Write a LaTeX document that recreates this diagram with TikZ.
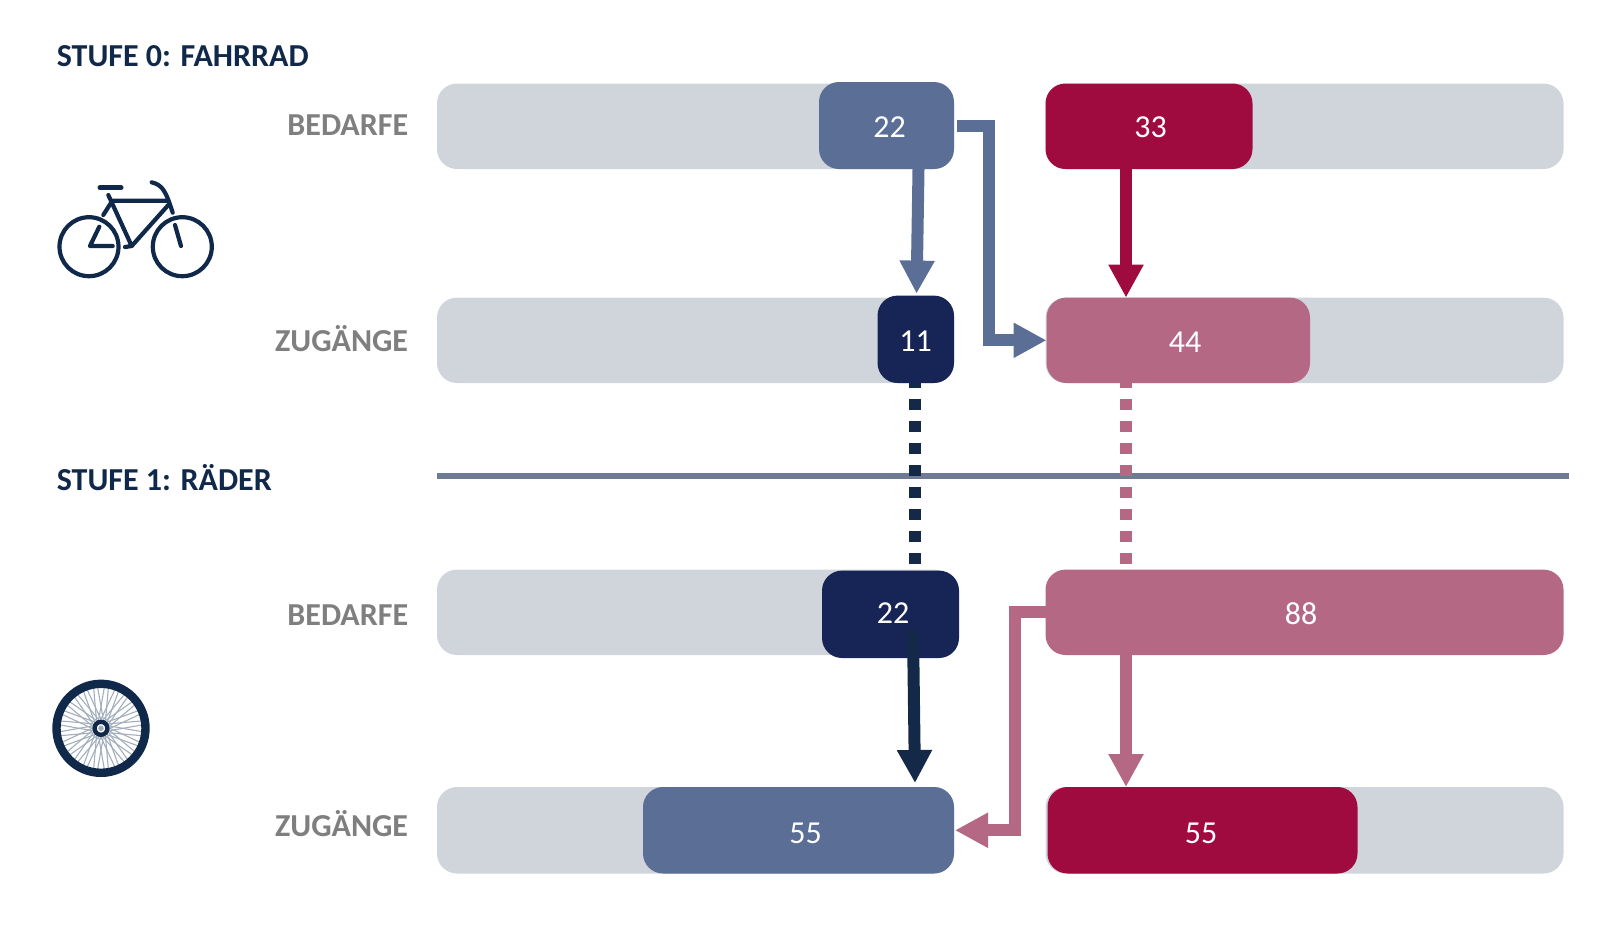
\documentclass[tikz,border=0pt]{standalone}
\usepackage{fontspec}
\setmainfont{Carlito}
\usetikzlibrary{arrows.meta}
\usetikzlibrary{fit}

\definecolor{trackgray}{HTML}{D0D4DB}
\definecolor{steelblue}{HTML}{5A6E96}
\definecolor{crimson}{HTML}{A00B3F}
\definecolor{rose}{HTML}{B46884}
\definecolor{navybox}{HTML}{172556}
\definecolor{navyline}{HTML}{142848}
\definecolor{titlenavy}{HTML}{10284A}
\definecolor{labelgray}{HTML}{7F7F7F}
\definecolor{rulecolor}{HTML}{6E7B93}
\definecolor{spoke}{HTML}{A3AEBD}

\begin{document}
\begin{tikzpicture}[x=0.5pt,y=-0.5pt,
    bar/.style={rounded corners=10pt,inner sep=0pt,outer sep=0pt},
    num/.style={text=white,font=\fontsize{16}{19}\selectfont,inner sep=0pt},
    stage/.style={anchor=base west,text=titlenavy,inner sep=0pt,font=\bfseries\fontsize{16}{19}\selectfont},
    rowlabel/.style={anchor=base east,text=labelgray,inner sep=0pt,font=\bfseries\fontsize{16}{19}\selectfont},
    flow/.style={line width=6pt,-{Triangle[length=16.5pt,width=16.5pt]}},
    dots/.style={line width=6pt,dash pattern=on 5.5pt off 5.5pt},
    icon/.style={draw=titlenavy,line width=2.1pt,line cap=round,line join=round}]
  \useasboundingbox (0,0) rectangle (1615,927);

  % grey tracks
  \foreach \name/\xa/\ya/\xb/\yb in {
      trackA/437/83.5/954/169, trackB/1045.5/83.5/1563.5/169,
      trackC/437/297.6/954/383, trackD/1045.5/297.6/1563.5/383,
      trackE/437/569.6/954/655,
      trackF/437/787/954/873.5, trackG/1045.5/787/1563.5/873.5}
    \node [bar,fill=trackgray,fit={(\xa,\ya) (\xb,\yb)}] (\name) {};

  % coloured bars
  \foreach \name/\col/\xa/\ya/\xb/\yb in {
      bedarfL/steelblue/819/82/954/169, bedarfR/crimson/1045.5/83.5/1252.5/169,
      zugangL/navybox/877.5/295.6/954/383, zugangR/rose/1046.5/297.6/1310/383,
      raederL/navybox/822/570.6/959/658, raederR/rose/1045.5/569.6/1563.5/655,
      endL/steelblue/643/787/954/873.5, endR/crimson/1047.5/787/1357.5/873.5}
    \node [bar,fill=\col,fit={(\xa,\ya) (\xb,\yb)}] (\name) {};

  \coordinate (xnavy) at (915,0);
  \coordinate (xred) at (1126,0);
  \coordinate (xblue) at (988.5,0);
  \coordinate (xrose) at (1015,0);
  \coordinate (ruleA) at (437,476);
  \coordinate (ruleB) at (1569,476);

  \draw [rulecolor,line width=2.75pt] (ruleA) -- (ruleB);

  % dotted links between the stages
  \draw [dots,navyline] ([yshift=3.3pt]raederL.north -| xnavy) -- (zugangL.south -| xnavy);
  \draw [dots,rose] ([yshift=3pt]raederR.north -| xred) -- (zugangR.south -| xred);

  % arrows
  \draw [flow,steelblue] ([xshift=16pt]bedarfL.south) -- ([xshift=0.4pt,yshift=1pt]zugangL.north);
  \draw [flow,steelblue] ([xshift=1.3pt]bedarfL.east) -- (bedarfL.east -| xblue) -- (zugangR.west -| xblue) -- (zugangR.west);
  \draw [flow,crimson] (bedarfR.south -| xred) -- (zugangR.north -| xred);
  \draw [flow,navyline] ([xshift=11.25pt,yshift=-8pt]raederL.center) -- ([yshift=2pt]endL.north -| xnavy);
  \draw [flow,rose] (raederR.south -| xred) -- (endR.north -| xred);
  \draw [flow,rose] (raederR.west) -- (raederR.west -| xrose) -- (endL.east -| xrose) -- ([xshift=0.5pt]endL.east);

  % numbers
  \node [num] (n22a) at (889.7,127.2) {22};
  \node [num] (n33) at (1150.5,127.7) {33};
  \node [num] (n11) at (915.5,341.5) {11};
  \node [num] (n44) at (1185,342) {44};
  \node [num] (n22b) at (893,613.5) {22};
  \node [num] (n88) at (1301,613.5) {88};
  \node [num] (n55a) at (805.5,833.5) {55};
  \node [num] (n55b) at (1201,833.5) {55};

  % texts
  \node [stage] (stufeA) at (56.5,66) {STUFE 0: FAHRRAD};
  \node [stage] (stufeB) at (56.5,490) {STUFE 1: RÄDER};
  \node [rowlabel] (rowA) at (408.5,135) {BEDARFE};
  \node [rowlabel] (rowB) at (408.5,351) {ZUGÄNGE};
  \node [rowlabel] (rowC) at (408.5,625) {BEDARFE};
  \node [rowlabel] (rowD) at (408.5,836) {ZUGÄNGE};

  % bicycle
  \draw [icon] (89,246.7) circle (29.5) (182.3,246.7) circle (29.5);
  \draw [icon,line width=2.5pt] (100,187.7) -- (121,187.7);
  \draw [icon] (108.3,195) -- (131.7,246) -- (125,247) (110.7,200.7) -- (168.3,200.7);
  \draw [icon] (168.3,205) -- (131.7,246) (110.7,203.3) -- (103.3,215);
  \draw [icon] (151.7,182.3) .. controls (163,185) and (166,192) .. (172.7,212.7);
  \draw [icon] (99.3,226.7) -- (90,246) -- (112.7,246) (175,225) -- (181,246);

  % wheel
  \foreach \a in {0,15,...,345} {
    \draw [spoke,line width=0.55pt] (101,728.3) ++(\a:9) -- ++(\a+25:36);
    \draw [spoke,line width=0.55pt] (101,728.3) ++(\a:9) -- ++(\a-25:36);
  }
  \draw [titlenavy,line width=4.2pt] (101,728.3) circle (44.5);
  \draw [titlenavy,line width=2.2pt] (101,728.3) circle (6.5);
  \fill [spoke] (101,728.3) circle (2.8);
\end{tikzpicture}
\end{document}
